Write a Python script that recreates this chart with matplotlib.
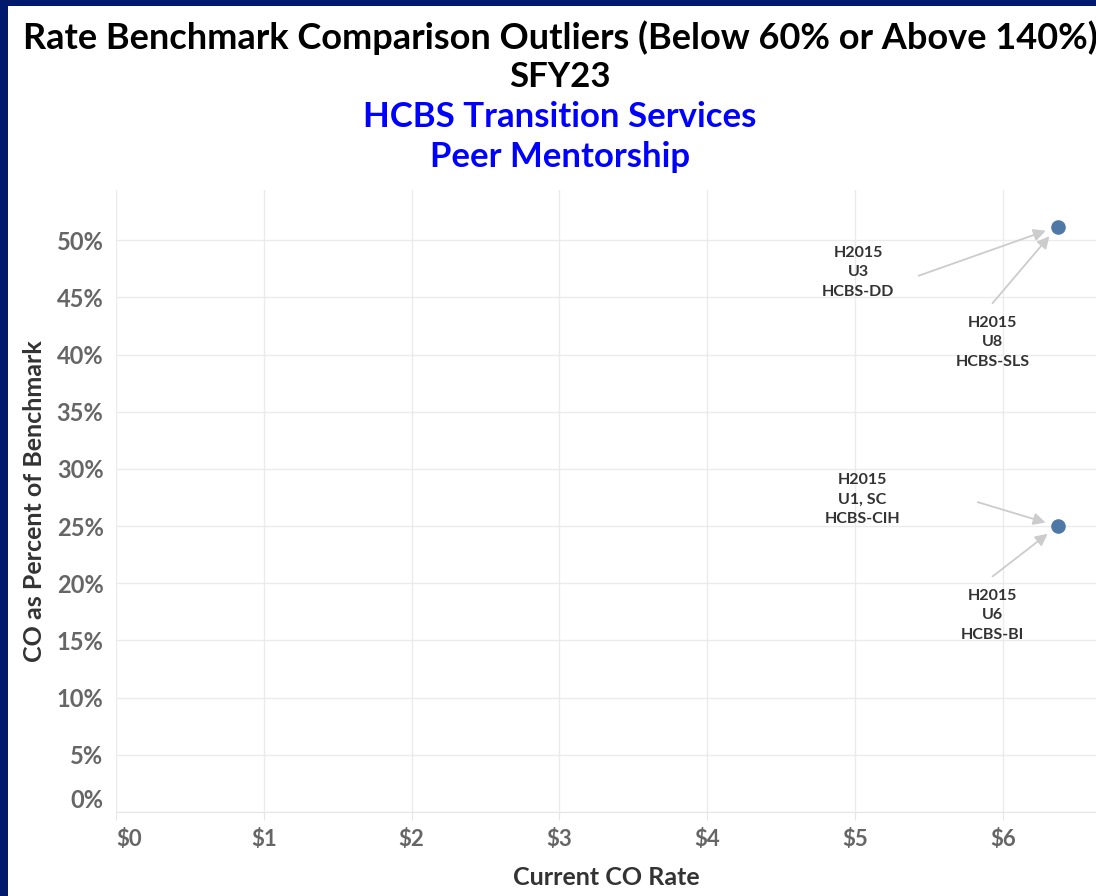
import numpy as np
import matplotlib.pyplot as plt
from matplotlib.patches import Rectangle
from matplotlib.ticker import FuncFormatter

# Datos
rate = [6.37, 6.37]
pct = [51.2, 25.0]

labels = ['H2015\nU3\nHCBS-DD', 'H2015\nU8\nHCBS-SLS',
          'H2015\nU1, SC\nHCBS-CIH', 'H2015\nU6\nHCBS-BI']
label_point = [0, 0, 1, 1]
label_xy = [(5.02, 47.2), (5.93, 41.1), (5.05, 27.3), (5.93, 17.2)]
arrow_tail = [(5.43, 46.9), (5.93, 44.5), (5.83, 27.1), (5.93, 20.6)]

xticks = [0, 1, 2, 3, 4, 5, 6]
yticks = [0, 5, 10, 15, 20, 25, 30, 35, 40, 45, 50]

navy = '#021a6b'
fnt = 'Lato'

fig = plt.figure(figsize=(10.96, 8.96), dpi=100, facecolor=navy)
fig.patches.append(Rectangle((8/1096, 0), 1, 1 - 6/896, transform=fig.transFigure,
                             facecolor='white', edgecolor='none', zorder=-10))

ax = fig.add_axes([116/1096, 1 - 812/896, 1 - 116/1096, (812 - 190)/896])
ax.set_facecolor('white')

ax.scatter(rate, pct, s=90, color='#4e79a7', zorder=5)

# etiquetas con flechas
for txt, k, (tx, ty), (ax0, ay0) in zip(labels, label_point, label_xy, arrow_tail):
    ax.text(tx, ty, txt, ha='center', va='center', fontsize=11.5, fontweight='bold',
            color='#333333', family=fnt, linespacing=1.5)
    ax.annotate('', xy=(rate[k], pct[k]), xytext=(ax0, ay0),
                arrowprops=dict(arrowstyle='-|>', color='#cccccc', lw=1.3,
                                mutation_scale=18, shrinkA=0, shrinkB=9))

ax.set_xlim(0, 6.63)
ax.set_ylim(0, 54.4)
ax.set_xticks(xticks)
ax.set_yticks(yticks)
ax.xaxis.set_major_formatter(FuncFormatter(lambda v, p: '$%d' % v))
ax.yaxis.set_major_formatter(FuncFormatter(lambda v, p: '%d%%' % v))
ax.grid(True, color='#ebebeb', lw=1)
ax.set_axisbelow(True)
for s in ['top', 'right', 'left']:
    ax.spines[s].set_visible(False)
ax.spines['bottom'].set_color('#e6e6e6')
ax.tick_params(axis='x', length=6, color='#e6e6e6', pad=6)
ax.tick_params(axis='y', length=0, pad=9)
for t in ax.get_xticklabels():
    t.set_fontsize(16)
for t in ax.get_yticklabels():
    t.set_fontsize(17)
for t in ax.get_xticklabels() + ax.get_yticklabels():
    t.set_fontweight('bold')
    t.set_color('#666666')
    t.set_family(fnt)
ax.get_xticklabels()[0].set_horizontalalignment('left')
ax.get_yticklabels()[0].set_verticalalignment('bottom')

ax.set_xlabel('Current CO Rate', fontsize=18, fontweight='bold', color='#333333',
              family=fnt, labelpad=12)
ax.set_ylabel('CO as Percent of Benchmark', fontsize=18, fontweight='bold',
              color='#333333', family=fnt, labelpad=8)

# Titulos
cx = 560/1096
fig.text(cx, 1 - 38/896, 'Rate Benchmark Comparison Outliers (Below 60% or Above 140%)',
         ha='center', va='center', fontsize=26, fontweight='bold', color='black', family=fnt)
fig.text(cx, 1 - 77/896, 'SFY23', ha='center', va='center', fontsize=25,
         fontweight='bold', color='black', family=fnt)
fig.text(cx, 1 - 117/896, 'HCBS Transition Services', ha='center', va='center',
         fontsize=25, fontweight='bold', color='#0000ff', family=fnt)
fig.text(cx, 1 - 157/896, 'Peer Mentorship', ha='center', va='center',
         fontsize=25, fontweight='bold', color='#0000ff', family=fnt)

fig.savefig('out.png', dpi=100, facecolor=navy)
